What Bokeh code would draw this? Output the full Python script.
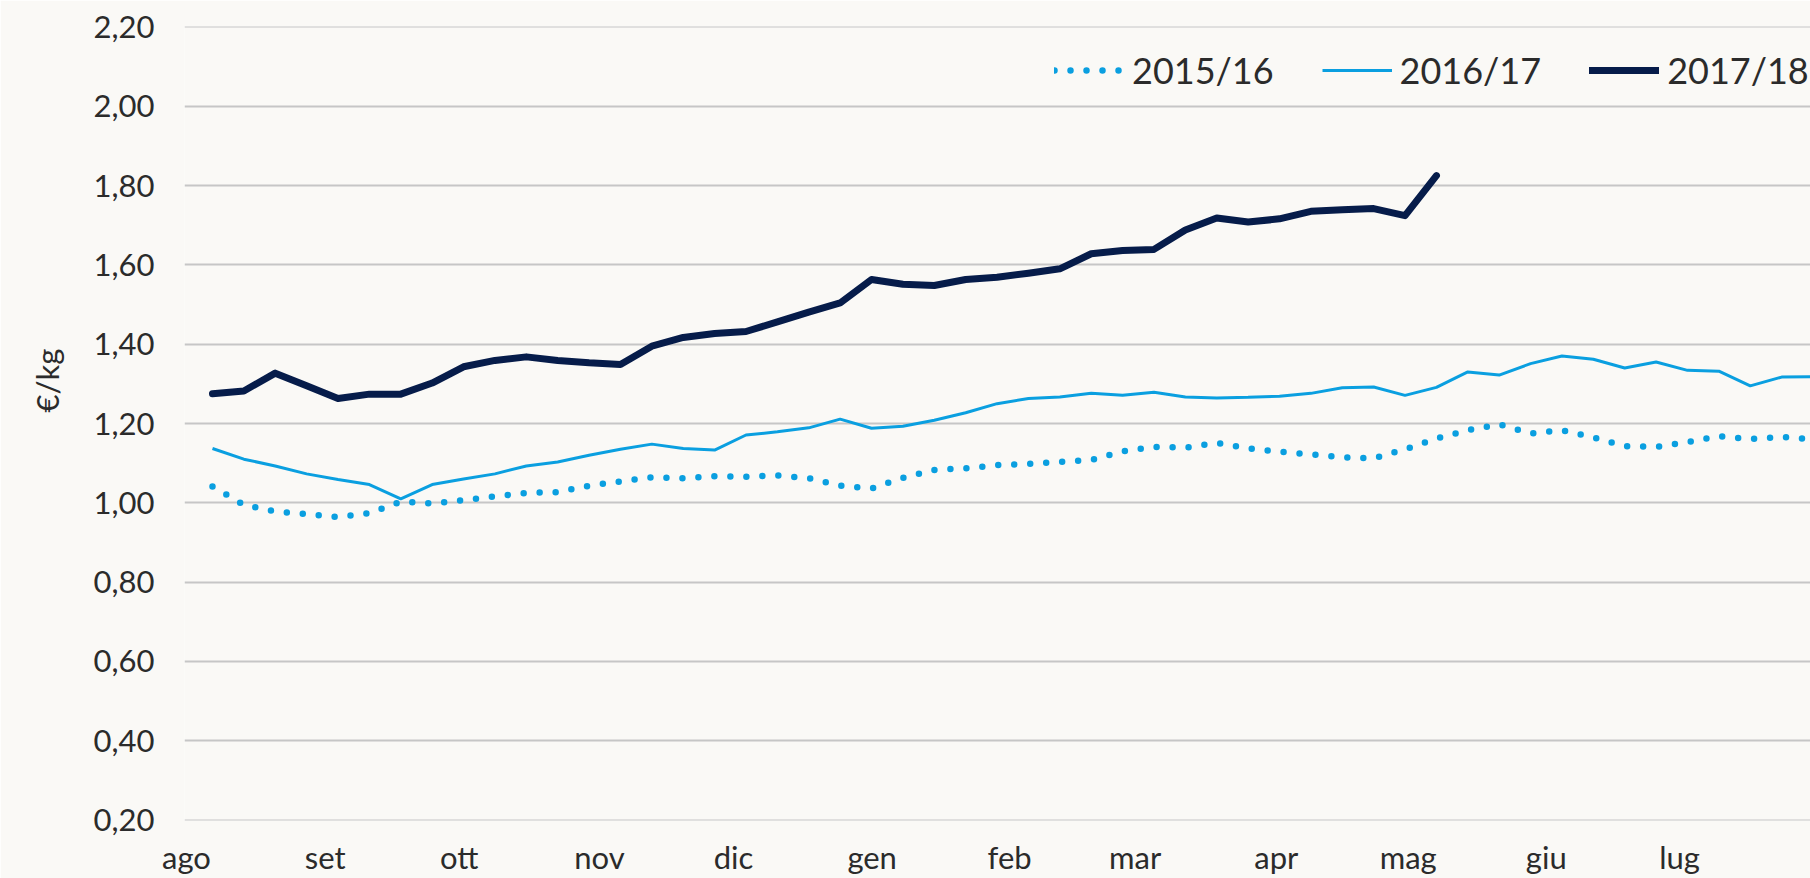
from bokeh.plotting import figure
from bokeh.models import (ColumnDataSource, FixedTicker, CustomJSTickFormatter, Legend,
                          LegendItem, Range1d, Title)
from bokeh.embed import file_html
from bokeh.resources import INLINE

# ---------------- data ----------------
months = ["ago", "set", "ott", "nov", "dic", "gen", "feb", "mar", "apr", "mag", "giu", "lug"]
month_pos = [-0.83, 3.59, 7.86, 12.33, 16.6, 21.02, 25.4, 29.4, 33.9, 38.1, 42.5, 46.75]
y_ticks = [0.2, 0.4, 0.6, 0.8, 1.0, 1.2, 1.4, 1.6, 1.8, 2.0, 2.2]

s2015_16 = [1.041, 0.995, 0.978, 0.972, 0.964, 0.974, 1.003, 0.998, 1.007, 1.016,
            1.025, 1.027, 1.043, 1.054, 1.064, 1.062, 1.067, 1.066, 1.069, 1.062,
            1.043, 1.036, 1.063, 1.083, 1.087, 1.095, 1.098, 1.103, 1.108, 1.130,
            1.141, 1.139, 1.151, 1.137, 1.129, 1.122, 1.115, 1.112, 1.135, 1.162,
            1.183, 1.198, 1.175, 1.183, 1.165, 1.143, 1.141, 1.153, 1.168, 1.161,
            1.166, 1.160]
s2016_17 = [1.137, 1.110, 1.093, 1.073, 1.059, 1.046, 1.010, 1.046, 1.060,
            1.073, 1.093, 1.103, 1.120, 1.135, 1.148, 1.137, 1.133,
            1.171, 1.179, 1.189, 1.211, 1.188, 1.193, 1.208, 1.227, 1.250,
            1.263, 1.267, 1.276, 1.271, 1.279, 1.267, 1.264, 1.266, 1.269,
            1.276, 1.290, 1.292, 1.271, 1.291,
            1.330, 1.322, 1.351, 1.370, 1.362, 1.340, 1.355, 1.334, 1.332, 1.295,
            1.317, 1.318]
s2017_18 = [1.275, 1.282, 1.327, 1.295, 1.263, 1.274, 1.274, 1.302, 1.343, 1.359,
            1.368, 1.359, 1.353, 1.349, 1.395, 1.417, 1.427, 1.432, 1.456, 1.481,
            1.504, 1.563, 1.551, 1.548, 1.563, 1.569, 1.579, 1.590, 1.628, 1.636,
            1.639, 1.688, 1.718, 1.708, 1.716, 1.735, 1.739, 1.742, 1.724, 1.825]
series_names = ["2015/16", "2016/17", "2017/18"]
y_title = "€/kg"

# ---------------- style ----------------
BG = "#FAF9F6"
NAVY = "#061C4A"
LBLUE = "#0A9FE0"
TXT = "#2B2B2B"
GRID = "#C6C6C6"
FONT = "Lato"

p = figure(width=1810, height=878, output_backend="svg", toolbar_location=None,
           x_range=Range1d(-0.8917, 50.92), y_range=Range1d(0.199, 2.201),
           min_border_left=183, min_border_right=0, min_border_top=26, min_border_bottom=57,
           background_fill_color=BG, border_fill_color=BG, outline_line_color=None)

src1 = ColumnDataSource(dict(x=list(range(len(s2015_16))), y=s2015_16))
src2 = ColumnDataSource(dict(x=list(range(len(s2016_17))), y=s2016_17))
src3 = ColumnDataSource(dict(x=list(range(len(s2017_18))), y=s2017_18))

r1 = p.line("x", "y", source=src1, line_color=LBLUE, line_width=6.5,
            line_dash="0 16", line_cap="round")
r2 = p.line("x", "y", source=src2, line_color=LBLUE, line_width=3)
r3 = p.line("x", "y", source=src3, line_color=NAVY, line_width=7,
            line_cap="round", line_join="round")

# axes
p.xaxis.ticker = FixedTicker(ticks=month_pos)
p.xaxis.major_label_overrides = {pos: m for pos, m in zip(month_pos, months)}
p.yaxis.ticker = FixedTicker(ticks=y_ticks)
p.yaxis.formatter = CustomJSTickFormatter(code="return tick.toFixed(2).replace('.', ',');")
for ax in (p.xaxis, p.yaxis):
    ax.axis_line_color = None
    ax.major_tick_line_color = None
    ax.minor_tick_line_color = None
    ax.major_tick_out = 0
    ax.major_tick_in = 0
    ax.major_label_text_font = FONT
    ax.major_label_text_font_size = "31px"
    ax.major_label_text_color = TXT
p.xaxis.major_label_standoff = 17
p.yaxis.major_label_standoff = 30

p.xgrid.grid_line_color = None
p.ygrid.grid_line_color = GRID
p.ygrid.grid_line_width = 2

# y-axis title (placed higher than centre, like the reference)
p.add_layout(Title(text=y_title, align="left", offset=408, standoff=50,
                   text_font=FONT, text_font_size="31px", text_font_style="normal",
                   text_color=TXT), "left")

# legend
legend = Legend(items=[LegendItem(label=series_names[0], renderers=[r1]),
                       LegendItem(label=series_names[1], renderers=[r2]),
                       LegendItem(label=series_names[2], renderers=[r3])],
                orientation="horizontal", location=(870, 728),
                glyph_width=70, glyph_height=20, label_standoff=8, spacing=48,
                padding=0, margin=0, border_line_color=None, background_fill_alpha=0,
                label_text_font=FONT, label_text_font_size="36px", label_text_color=TXT)
p.add_layout(legend)

open("out.html", "w").write(file_html(p, INLINE))
